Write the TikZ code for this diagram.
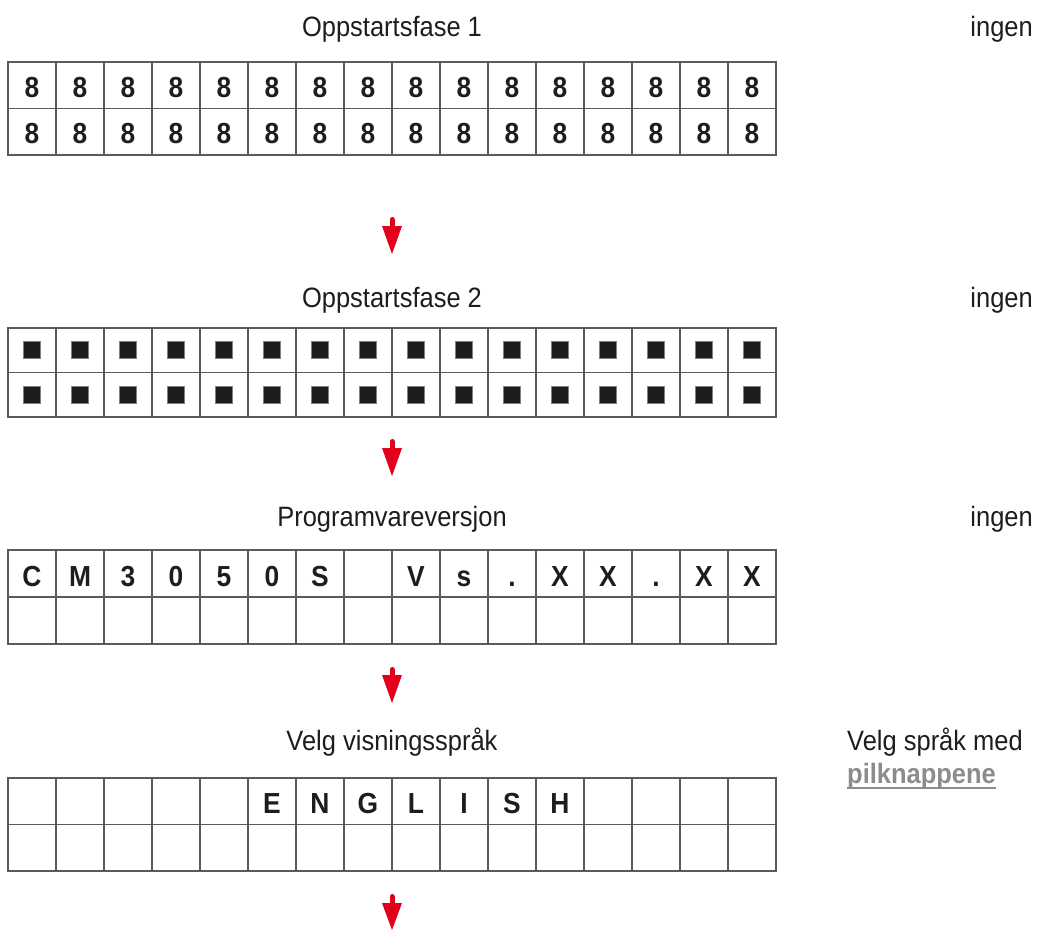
\documentclass[tikz,border=0pt]{standalone}
\usepackage{fontspec}
\setmainfont{Liberation Sans}[FakeStretch=0.91]
\usetikzlibrary{calc}
\definecolor{gridgray}{HTML}{5A5A5A}
\definecolor{inkdark}{HTML}{1D1D1B}
\definecolor{arrowred}{HTML}{E2001A}
\definecolor{pilgray}{HTML}{8C8C8C}
\begin{document}
\begin{tikzpicture}[x=1pt,y=-1pt,
  gridline/.style={draw=gridgray,line width=1.3pt},
  label/.style={inner sep=0pt,text=inkdark,font=\fontsize{28}{30}\selectfont},
  cellchar/.style={inner sep=0pt,anchor=base,text=inkdark,font=\fontsize{29}{30}\selectfont\bfseries},
  blk/.style={fill=inkdark,draw=gray,line width=0.5pt},
  redarrow/.style={fill=arrowred}]
\useasboundingbox (0,0) rectangle (1038,930);

% ---------- grids ----------
\foreach \top/\rh in {62/46.5, 328/44.5, 550/47, 778/46.5}{
  \draw[gridline] (8,\top) rectangle (776,\top+2*\rh);
  \draw[gridline] (8,\top+\rh) -- (776,\top+\rh);
  \foreach \i in {1,...,15}{
    \draw[gridline] (8+48*\i,\top) -- (8+48*\i,\top+2*\rh);
  }
}

% ---------- labels ----------
\node[label,anchor=base] (l1) at (392,36) {Oppstartsfase 1};
\node[label,anchor=base east] (r1) at (1033,36) {ingen};
\node[label,anchor=base] (l2) at (392,307) {Oppstartsfase 2};
\node[label,anchor=base east] (r2) at (1033,307) {ingen};
\node[label,anchor=base] (l3) at (392,526) {Programvareversjon};
\node[label,anchor=base east] (r3) at (1033,526) {ingen};
\node[label,anchor=base] (l4) at (392,750) {Velg visningsspråk};
\node[label,anchor=base west] (r4) at (847,750) {Velg språk med};
\node[label,anchor=base west,text=pilgray,font=\fontsize{28}{30}\selectfont\bfseries] (pil) at (847,783) {pilknappene};
\draw[pilgray,line width=2pt] ($(pil.base west)+(0,5)$) -- ($(pil.base east)+(0,5)$);

% ---------- table 1: eights ----------
\foreach \i in {0,...,15}{
  \node[cellchar] (a\i) at (32+48*\i,97) {8};
  \node[cellchar] (b\i) at (32+48*\i,143.5) {8};
}

% ---------- table 2: blocks ----------
\foreach \i in {0,...,15}{
  \draw[blk] (32+48*\i-8.5,350-8.5) rectangle (32+48*\i+8.5,350+8.5);
  \draw[blk] (32+48*\i-8.5,394.5-8.5) rectangle (32+48*\i+8.5,394.5+8.5);
}

% ---------- table 3: version ----------
\foreach \c [count=\k from 0] in {C,M,3,0,5,0,S,{},V,s,.,X,X,.,X,X}{
  \node[cellchar] (c\k) at (32+48*\k,586) {\c};
}

% ---------- table 4: language ----------
\foreach \c [count=\k from 5] in {E,N,G,L,I,S,H}{
  \node[cellchar] (d\k) at (32+48*\k,813) {\c};
}

% ---------- red arrows ----------
\foreach \t/\h/\b in {217/226/254, 439/448/476, 667/675/703, 894/903/930}{
  \draw[arrowred,line width=5pt,line cap=round] (392,\t+2.5) -- (392,\h+4);
  \fill[redarrow] (382,\h) -- (402,\h) -- (392,\b) -- cycle;
}
\end{tikzpicture}
\end{document}
